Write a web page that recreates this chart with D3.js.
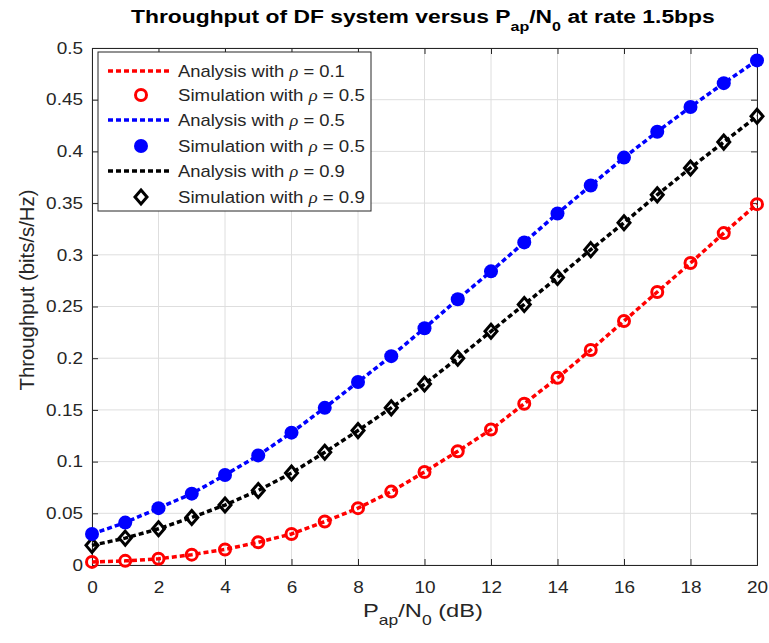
<!DOCTYPE html>
<html><head><meta charset="utf-8">
<script src="https://cdn.jsdelivr.net/npm/d3@7"></script>
<style>body{margin:0;background:#fff}svg{display:block}text{font-family:"Liberation Sans",Arial,sans-serif}</style>
</head><body>
<svg id="c" width="769" height="643"></svg>
<script>
const xs = d3.range(0, 21);
const red01 = [0.003,0.004,0.006,0.010,0.015,0.022,0.030,0.042,0.055,0.071,0.090,0.110,0.131,0.156,0.181,0.208,0.236,0.264,0.292,0.321,0.349];
const blue05 = [0.030,0.041,0.055,0.069,0.087,0.106,0.128,0.152,0.177,0.202,0.229,0.257,0.284,0.312,0.340,0.367,0.394,0.419,0.443,0.466,0.488];
const black09 = [0.019,0.026,0.035,0.046,0.058,0.072,0.089,0.109,0.130,0.152,0.175,0.200,0.226,0.252,0.278,0.305,0.331,0.358,0.384,0.409,0.434];
const xTicks = [0,2,4,6,8,10,12,14,16,18,20];
const yTicks = [0,0.05,0.1,0.15,0.2,0.25,0.3,0.35,0.4,0.45,0.5];
const legendLabels = ["Analysis with ρ = 0.1","Simulation with ρ = 0.5","Analysis with ρ = 0.5","Simulation with ρ = 0.5","Analysis with ρ = 0.9","Simulation with ρ = 0.9"];

const svg = d3.select("#c");
const L=92,R=757,T=48,B=565;
const SX=1.15;
const x = d3.scaleLinear().domain([0,20]).range([L,R]);
const y = d3.scaleLinear().domain([0,0.5]).range([B,T]);

function fitText(parent, parts, o){
  const g = parent.append("g");
  const t = g.append("text").attr("x",0).attr("y",0).attr("fill",o.fill||"#262626")
    .style("font-size",o.size+"px").style("font-weight",o.weight||"normal");
  let sub=false;
  parts.forEach(([s,k])=>{
    const ts = t.append("tspan").text(s);
    if(k==="sub"){ ts.style("font-size",o.subSize+"px"); if(!sub){ts.attr("dy",o.subDy);} sub=true; }
    else { if(sub){ts.attr("dy",-o.subDy);} sub=false; }
    if(k==="rho") ts.style("font-family","'Liberation Serif','Times New Roman',serif").style("font-style","italic");
  });
  const w = t.node().getBBox().width;
  const s = o.target ? o.target/w : (o.sx||1);
  const x0 = o.anchor==="start" ? o.x : o.x - w*s/2;
  g.attr("transform",`translate(${x0},${o.y}) scale(${s},1)`);
  return g;
}

// grid
const g = svg.append("g");
g.selectAll("line.gx").data(xTicks).join("line").attr("x1",d=>x(d)).attr("x2",d=>x(d)).attr("y1",T).attr("y2",B).attr("stroke","#dedede").attr("stroke-width",1);
g.selectAll("line.gy").data(yTicks).join("line").attr("y1",d=>y(d)).attr("y2",d=>y(d)).attr("x1",L).attr("x2",R).attr("stroke","#dedede").attr("stroke-width",1);

// axes
const fmt = d=> d===0?"0":String(d);
const ax = svg.append("g").attr("transform",`translate(0,${B})`).call(d3.axisBottom(x).tickValues(xTicks).tickSize(-6).tickPadding(16).tickFormat(fmt));
const ay = svg.append("g").attr("transform",`translate(${L},0)`).call(d3.axisLeft(y).tickValues(yTicks).tickSize(-6).tickPadding(9).tickFormat(fmt));
const axT = svg.append("g").attr("transform",`translate(0,${T})`).call(d3.axisTop(x).tickValues(xTicks).tickSize(-6).tickFormat(""));
const ayR = svg.append("g").attr("transform",`translate(${R},0)`).call(d3.axisRight(y).tickValues(yTicks).tickSize(-6).tickFormat(""));
[ax,ay,axT,ayR].forEach(a=>{a.select(".domain").attr("stroke","#262626").attr("stroke-width",1);a.selectAll(".tick line").attr("stroke","#262626");a.selectAll("text").attr("fill","#262626").style("font-size","16.5px").style("font-family","'Liberation Sans',Arial,sans-serif");});
ax.selectAll(".tick text").attr("transform",`scale(${SX},1)`);
ay.selectAll(".tick text").attr("x",-9/SX).attr("transform",`scale(${SX},1)`);

// series
const series = [
 {v:red01,c:"#ff0000",m:"circleOpen"},
 {v:black09,c:"#000000",m:"diamond"},
 {v:blue05,c:"#0000ff",m:"circleFill"}
];
const line = d3.line().x((d,i)=>x(xs[i])).y(d=>y(d));
function marker(sel,m,c){
  if(m==="circleOpen") sel.append("circle").attr("r",5.5).attr("fill","none").attr("stroke",c).attr("stroke-width",3);
  else if(m==="circleFill") sel.append("circle").attr("r",7).attr("fill",c);
  else sel.append("path").attr("d","M0,-7L6,0L0,7L-6,0Z").attr("fill","none").attr("stroke",c).attr("stroke-width",3);
}
series.forEach(s=>{
  svg.append("path").datum(s.v).attr("d",line).attr("fill","none").attr("stroke",s.c).attr("stroke-width",3.5).attr("stroke-dasharray","5,3");
  svg.selectAll(null).data(s.v).join("g").attr("transform",(d,i)=>`translate(${x(xs[i])},${y(d)})`).each(function(){marker(d3.select(this),s.m,s.c);});
});

// legend
const lg = svg.append("g");
lg.append("rect").attr("x",98).attr("y",52).attr("width",273).attr("height",159).attr("fill","#fff").attr("stroke","#262626").attr("stroke-width",1);
const lItems = [
 {t:"line",c:"#ff0000"},{t:"circleOpen",c:"#ff0000"},
 {t:"line",c:"#0000ff"},{t:"circleFill",c:"#0000ff"},
 {t:"line",c:"#000000"},{t:"diamond",c:"#000000"}];
const rowY = [71,95,120,146,171,197];
lItems.forEach((it,i)=>{
  const yy = rowY[i];
  if(it.t==="line") lg.append("line").attr("x1",108).attr("x2",170).attr("y1",yy).attr("y2",yy).attr("stroke",it.c).attr("stroke-width",3.5).attr("stroke-dasharray","5,3");
  else { const gg = lg.append("g").attr("transform",`translate(141,${yy})`); marker(gg,it.t,it.c); }
  const parts = legendLabels[i].split("ρ");
  const target = legendLabels[i].startsWith("Analysis") ? 167 : 187;
  fitText(lg, [[parts[0],"n"],["ρ","rho"],[parts[1],"n"]], {size:16, x:178, y:yy+5.5, anchor:"start", target});
});

// title
fitText(svg, [["Throughput of DF system versus P","n"],["ap","sub"],["/N","n"],["0","sub"],[" at rate 1.5bps","n"]],
  {size:18.5, weight:"bold", fill:"#000", subSize:13, subDy:8, x:423, y:23, target:584});

// x label
fitText(svg, [["P","n"],["ap","sub"],["/N","n"],["0","sub"],[" (dB)","n"]],
  {size:19, subSize:14, subDy:8, x:423, y:617, target:120});

// y label (rotated, fitted along its length)
const yg = svg.append("g");
const yt = yg.append("text").attr("text-anchor","middle").attr("transform","rotate(-90)").style("font-size","17px").attr("fill","#262626").text("Throughput (bits/s/Hz)");
const yw = yt.node().getComputedTextLength();
yg.attr("transform",`translate(34,290) scale(1.2,${201/yw})`);
</script>
</body></html>
